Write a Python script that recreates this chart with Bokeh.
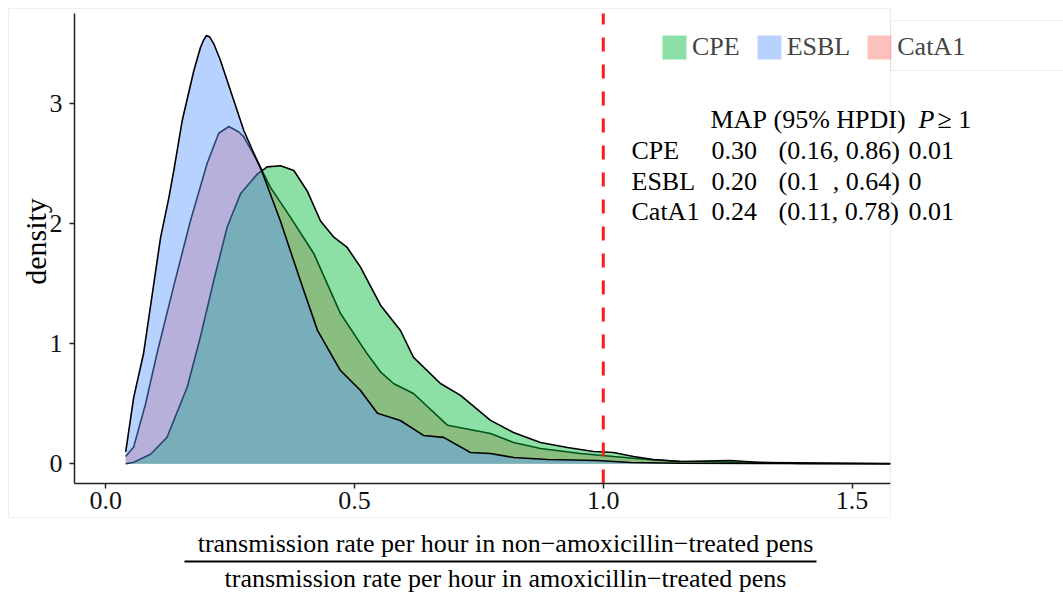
import math
from bokeh.plotting import figure
from bokeh.models import Range1d, FixedTicker, Label, Legend, LegendItem, BoxAnnotation
from bokeh.embed import file_html
from bokeh.resources import INLINE

# ---------------- data ----------------
series = ["CatA1", "CPE", "ESBL"]          # drawing order
legend_order = ["CPE", "ESBL", "CatA1"]

cpe_x = [0.040, 0.056, 0.090, 0.123, 0.1636, 0.190, 0.217, 0.244, 0.2708, 0.3043, 0.3244, 0.3512,
         0.378, 0.4048, 0.4316, 0.4584, 0.4852, 0.512, 0.5522, 0.5923, 0.6185, 0.6727, 0.713,
         0.7733, 0.8195, 0.8737, 0.928, 0.9803, 1.0205, 1.0607, 1.101, 1.155, 1.2555, 1.316,
         1.396, 1.577]
cpe_y = [0.0, 0.013, 0.08, 0.22, 0.637, 1.053, 1.525, 1.97, 2.246, 2.41, 2.47, 2.48,
         2.44, 2.27, 2.02, 1.885, 1.80, 1.636, 1.32, 1.109, 0.885, 0.668, 0.569,
         0.361, 0.261, 0.177, 0.136, 0.102, 0.094, 0.061, 0.036, 0.019, 0.027, 0.011,
         0.003, 0.001]

esbl_x = [0.040, 0.056, 0.076, 0.093, 0.110, 0.1266, 0.1367, 0.1536, 0.1769, 0.190, 0.196, 0.2024,
          0.209, 0.2171, 0.2305, 0.2573, 0.2774, 0.3144, 0.351, 0.391, 0.4255, 0.4717, 0.512,
          0.546, 0.592, 0.6386, 0.679, 0.733, 0.773, 0.820, 0.888, 0.988, 1.055, 1.155, 1.316,
          1.577]
esbl_y = [0.10, 0.55, 0.92, 1.40, 1.88, 2.21, 2.44, 2.856, 3.27, 3.46, 3.52, 3.563,
          3.55, 3.494, 3.355, 3.022, 2.773, 2.426, 2.02, 1.525, 1.11, 0.776, 0.61,
          0.42, 0.36, 0.236, 0.22, 0.094, 0.086, 0.052, 0.036, 0.028, 0.011, 0.004, 0.003,
          0.001]

cata1_x = [0.040, 0.056, 0.080, 0.103, 0.136, 0.170, 0.2038, 0.227, 0.2473, 0.2674, 0.2774,
           0.3043, 0.331, 0.3713, 0.418, 0.4718, 0.5254, 0.5532, 0.579, 0.6185, 0.687, 0.7733,
           0.8195, 0.8737, 0.9541, 1.0205, 1.089, 1.155, 1.296, 1.577]
cata1_y = [0.06, 0.14, 0.50, 0.92, 1.47, 2.02, 2.50, 2.75, 2.806, 2.76, 2.72,
           2.52, 2.30, 2.05, 1.75, 1.25, 0.915, 0.76, 0.666, 0.585, 0.32, 0.252,
           0.177, 0.127, 0.086, 0.061, 0.036, 0.019, 0.011, 0.002]

curves = {"CPE": (cpe_x, cpe_y), "ESBL": (esbl_x, esbl_y), "CatA1": (cata1_x, cata1_y)}
colors = {"CatA1": "#F8766D", "CPE": "#00BA38", "ESBL": "#619CFF"}

threshold = 1.0
x_ticks = [0.0, 0.5, 1.0, 1.5]
x_tick_labels = ["0.0", "0.5", "1.0", "1.5"]
y_ticks = [0, 1, 2, 3]
y_tick_labels = ["0", "1", "2", "3"]

table_header = ["MAP", "(95% HPDI)"]
table_rows = [
    ["CPE", "0.30", "(0.16, 0.86)", "0.01"],
    ["ESBL", "0.20", "(0.1\u00a0\u00a0, 0.64)", "0"],
    ["CatA1", "0.24", "(0.11, 0.78)", "0.01"],
]
xlabel_top = "transmission rate per hour in non\u2212amoxicillin\u2212treated pens"
xlabel_bottom = "transmission rate per hour in amoxicillin\u2212treated pens"

# ---------------- layout ----------------
W, H = 1063, 595
PX_X, X0 = 497.5, 105.3       # px per x unit, canvas x of x = 0
PX_Y, Y0 = 120.2, 463.3       # px per y unit, canvas y of y = 0
AX_L, AX_R, AX_T, AX_B = 74, 890, 13, 483   # panel edges (canvas px)
FONT = "Liberation Serif"


def xd(px):
    return (px - X0) / PX_X


def yd(py):
    return (Y0 - py) / PX_Y


p = figure(width=W, height=H, output_backend="svg", toolbar_location=None,
           x_range=Range1d(xd(0), xd(W)), y_range=Range1d(yd(H), yd(0)),
           min_border_left=0, min_border_right=0, min_border_top=0, min_border_bottom=0)
p.outline_line_color = None
p.xgrid.visible = False
p.ygrid.visible = False
p.background_fill_color = "white"
p.border_fill_color = "white"

# screenshot-like borders
p.add_layout(BoxAnnotation(left=8, right=890, top=8, bottom=517,
                           left_units="canvas", right_units="canvas",
                           top_units="canvas", bottom_units="canvas",
                           fill_alpha=0, line_color="#C8C8C8", line_width=1.2))

areas = {}
for s in series:
    xs, ys = curves[s]
    areas[s] = p.varea(x=xs, y1=[0] * len(xs), y2=ys, fill_color=colors[s], fill_alpha=0.45)
    p.line(x=xs, y=ys, line_color="black", line_width=1.6)

p.line(x=[threshold, threshold], y=[yd(AX_B), yd(AX_T)], line_color="#FF1A1A",
       line_width=3, line_dash="14 13")

xa, ya = p.xaxis[0], p.yaxis[0]
xa.fixed_location = yd(AX_B)
ya.fixed_location = xd(AX_L)
xa.bounds = (xd(AX_L), xd(AX_R))
ya.bounds = (yd(AX_B), yd(AX_T))
for ax, ticks, labels in ((xa, x_ticks, x_tick_labels), (ya, y_ticks, y_tick_labels)):
    ax.ticker = FixedTicker(ticks=ticks)
    ax.major_label_overrides = {t: l for t, l in zip(ticks, labels)}
    ax.minor_tick_line_color = None
    ax.major_tick_in = 0
    ax.major_tick_out = 5
    ax.axis_line_color = "#222222"
    ax.axis_line_width = 1.5
    ax.major_tick_line_color = "#222222"
    ax.major_tick_line_width = 1.5
    ax.major_label_text_font = FONT
    ax.major_label_text_font_size = "26px"
    ax.major_label_text_color = "#111111"
xa.major_label_standoff = 3
ya.major_label_standoff = 7


def clabel(text, X, Y, align="left", baseline="alphabetic", size="26px", style="normal", angle=0.0):
    p.add_layout(Label(x=X, y=H - Y, x_units="screen", y_units="screen", text=text,
                       text_font=FONT, text_font_size=size, text_font_style=style,
                       text_align=align, text_baseline=baseline, angle=angle,
                       text_color="black"))


# y label
clabel("density", 35, 241, align="center", baseline="middle", size="30px", angle=math.pi / 2)

# table
row_y = [150, 181, 211]
clabel(table_header[0], 710, 119)
clabel(table_header[1], 773, 119)
clabel("P", 918, 119, style="italic")
clabel("\u2265 1", 937, 119)
cols = [631, 711, 778, 908]
for r, row in enumerate(table_rows):
    for c, cell in enumerate(row):
        clabel(cell, cols[c], row_y[r])

# x label as a fraction
clabel(xlabel_top, 505, 543, align="center")
clabel(xlabel_bottom, 505, 578, align="center")
p.add_layout(BoxAnnotation(left=184, right=816, top=560, bottom=562,
                           left_units="canvas", right_units="canvas",
                           top_units="canvas", bottom_units="canvas",
                           fill_color="black", fill_alpha=1, line_color=None))

# legend
legend = Legend(items=[LegendItem(label=s, renderers=[areas[s]]) for s in legend_order],
                location=(659, H - 62), orientation="horizontal",
                glyph_width=30, glyph_height=30, label_height=30, label_standoff=3, spacing=14,
                padding=0, margin=0, background_fill_color="white", background_fill_alpha=0,
                border_line_color=None, label_text_font=FONT, label_text_font_size="26px")
p.add_layout(legend)
p.add_layout(BoxAnnotation(left=890, right=1070, top=20, bottom=70,
                           left_units="canvas", right_units="canvas",
                           top_units="canvas", bottom_units="canvas",
                           fill_alpha=0, line_color="#C8C8C8", line_width=1.2))

open("out.html", "w").write(file_html(p, INLINE))
